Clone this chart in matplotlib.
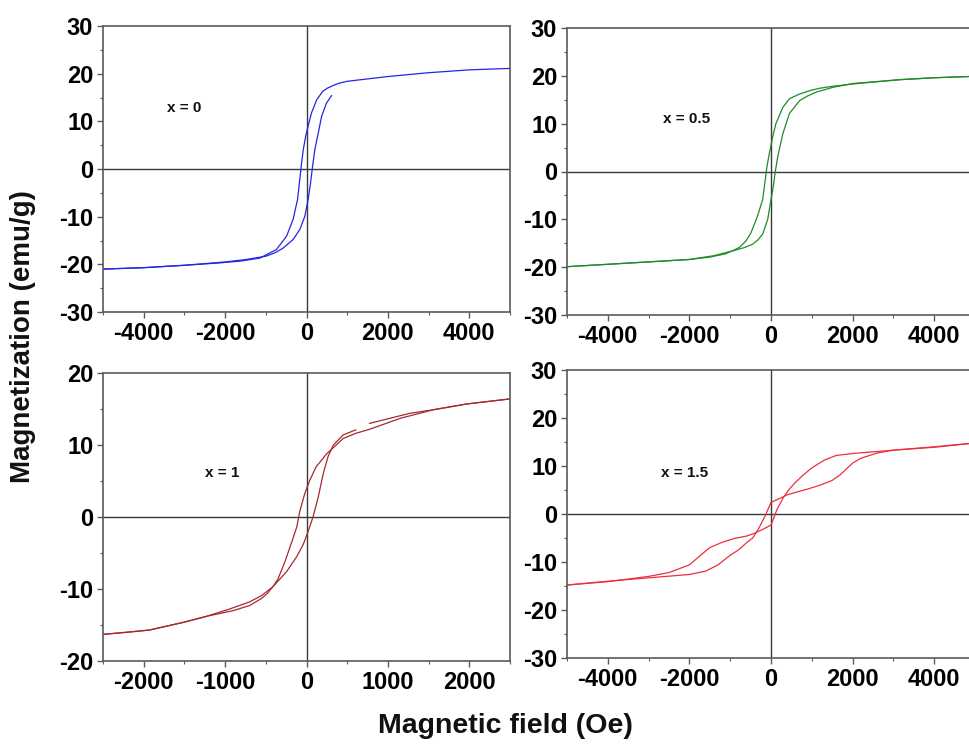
import numpy as np
import matplotlib
matplotlib.use("Agg")
import matplotlib.pyplot as plt
from matplotlib.ticker import MultipleLocator

plt.rcParams['font.family'] = ['Liberation Sans', 'DejaVu Sans']
plt.rcParams['axes.unicode_minus'] = False

# ---------------- data ----------------
# x = 0
p1_desc_H = [5000, 4000, 3000, 2000, 1500, 1000, 800, 650, 500, 400, 250, 120, 40, -20, -80, -120, -165, -220, -330, -490, -740, -1150, -1600, -2130, -3000, -4000, -5000]
p1_desc_M = [21.1, 20.8, 20.2, 19.4, 18.9, 18.4, 18.0, 17.5, 16.9, 16.3, 14.5, 11.7, 9.0, 6.9, 4.0, 1.3, -2.2, -6.4, -10.6, -14.1, -16.9, -18.7, -19.3, -19.7, -20.2, -20.7, -21.0]
p1_asc_H = [-5000, -4000, -3000, -2000, -1500, -1000, -780, -575, -330, -165, -40, 40, 100, 150, 205, 290, 370, 490, 615]
p1_asc_M = [-21.0, -20.7, -20.2, -19.5, -19.0, -18.3, -17.6, -16.6, -14.8, -12.7, -9.9, -6.4, -2.9, 0.6, 4.1, 7.6, 11.0, 13.8, 15.4]

# x = 0.5
p2_desc_H = [5000, 4000, 3160, 2010, 1500, 1190, 950, 700, 450, 290, 120, 40, -40, -100, -140, -205, -330, -490, -620, -780, -900, -1110, -1500, -2010, -3400, -5000]
p2_desc_M = [19.9, 19.6, 19.2, 18.3, 17.8, 17.4, 16.9, 16.2, 15.2, 13.4, 10.0, 7.2, 3.8, 1.0, -1.7, -5.9, -9.3, -12.8, -14.6, -15.9, -16.4, -17.2, -17.9, -18.4, -19.1, -19.9]
p2_asc_H = [-5000, -3400, -2010, -1400, -940, -650, -450, -320, -205, -80, 0, 57, 100, 165, 290, 450, 700, 900, 1110, 1520, 2010, 3160, 4000, 5000]
p2_asc_M = [-19.9, -19.1, -18.4, -17.6, -16.6, -15.9, -15.2, -14.3, -13.1, -10.0, -5.9, -3.1, -0.3, 3.1, 7.9, 12.1, 14.8, 15.8, 16.6, 17.6, 18.4, 19.2, 19.6, 19.9]

# x = 1
p3_desc_H = [2500, 1970, 1560, 1150, 780, 600, 450, 250, 120, 40, -20, -80, -120, -185, -265, -350, -414, -480, -550, -700, -900, -1230, -1500, -1930, -2200, -2500]
p3_desc_M = [16.4, 15.7, 14.9, 13.7, 12.2, 11.6, 10.9, 8.8, 7.0, 5.1, 3.3, 0.9, -1.4, -3.6, -6.2, -8.6, -9.7, -10.6, -11.3, -12.3, -13.0, -13.8, -14.6, -15.7, -16.0, -16.3]
p3_asc_H = [-2500, -2200, -1930, -1500, -1230, -950, -700, -550, -414, -245, -120, -40, 20, 80, 145, 205, 265, 330, 450, 605, np.nan, 775, 1020, 1270, 1560, 1970, 2500]
p3_asc_M = [-16.3, -16.0, -15.7, -14.6, -13.8, -12.8, -11.8, -10.9, -9.7, -7.6, -5.5, -3.8, -2.0, 0.0, 2.8, 6.0, 8.4, 10.0, 11.4, 12.1, np.nan, 13.0, 13.7, 14.4, 14.9, 15.7, 16.4]

# x = 1.5
p4_desc_H = [5000, 4000, 3000, 2600, 2200, 2000, 1700, 1500, 1200, 900, 600, 400, 200, 0, -150, -300, -450, -600, -800, -1000, -1300, -1600, -2000, -3000, -4000, -5000]
p4_desc_M = [14.8, 14.0, 13.3, 12.7, 11.6, 10.6, 8.2, 7.0, 6.0, 5.2, 4.5, 4.0, 3.2, 2.4, -0.5, -3.0, -5.0, -6.0, -7.5, -8.6, -10.6, -11.9, -12.6, -13.3, -14.0, -14.8]
p4_asc_H = [-5000, -4000, -3000, -2500, -2000, -1700, -1500, -1200, -900, -600, -400, -200, 0, 150, 300, 450, 600, 800, 1000, 1300, 1600, 2000, 3000, 4000, 5000]
p4_asc_M = [-14.8, -14.1, -13.0, -12.2, -10.6, -8.4, -7.0, -5.9, -5.1, -4.6, -4.0, -3.2, -2.3, 1.0, 3.4, 5.2, 6.6, 8.2, 9.6, 11.2, 12.2, 12.6, 13.3, 13.9, 14.8]

labels = ["x = 0", "x = 0.5", "x = 1", "x = 1.5"]
label_pos = [(-3000, 12.8), (-2060, 11.0), (-1040, 6.1), (-2130, 8.5)]
colors = ["#2424e6", "#1f8a2a", "#a32a30", "#ec2f3c"]
xlims = [(-5000, 5000), (-5000, 5000), (-2500, 2500), (-5000, 5000)]
ylims = [(-30, 30), (-30, 30), (-20, 20), (-30, 30)]
xmaj = [2000, 2000, 1000, 2000]

data = [
    (p1_desc_H, p1_desc_M, p1_asc_H, p1_asc_M),
    (p2_desc_H, p2_desc_M, p2_asc_H, p2_asc_M),
    (p3_desc_H, p3_desc_M, p3_asc_H, p3_asc_M),
    (p4_desc_H, p4_desc_M, p4_asc_H, p4_asc_M),
]

W, H = 969, 744
rects_px = [
    (103, 26, 510, 312),
    (567, 28, 975, 315),
    (103, 373, 510, 661),
    (567, 370, 975, 658),
]

fig = plt.figure(figsize=(W / 100, H / 100), dpi=100)
spine_col = "#5a5a5a"
for i, (l, t, r, b) in enumerate(rects_px):
    ax = fig.add_axes([l / W, 1 - b / H, (r - l) / W, (b - t) / H])
    dH, dM, aH, aM = data[i]
    ax.axhline(0, color="#3a3a3a", lw=1.0, zorder=1)
    ax.axvline(0, color="#3a3a3a", lw=1.0, zorder=1)
    ax.plot(dH, dM, color=colors[i], lw=0.9, zorder=2)
    ax.plot(aH, aM, color=colors[i], lw=0.9, zorder=2)
    ax.set_xlim(*xlims[i])
    ax.set_ylim(*ylims[i])
    ax.xaxis.set_major_locator(MultipleLocator(xmaj[i]))
    ax.xaxis.set_minor_locator(MultipleLocator(xmaj[i] / 2))
    ax.yaxis.set_major_locator(MultipleLocator(10))
    ax.yaxis.set_minor_locator(MultipleLocator(5))
    ax.tick_params(which="major", direction="out", length=4, width=1.0,
                   color=spine_col, labelsize=17, pad=3)
    ax.tick_params(which="minor", direction="out", length=2.5, width=0.8,
                   color=spine_col)
    for lab in ax.get_xticklabels() + ax.get_yticklabels():
        lab.set_fontweight("bold")
    for sp in ax.spines.values():
        sp.set_color(spine_col)
        sp.set_linewidth(1.2)
    ax.text(label_pos[i][0], label_pos[i][1], labels[i], ha="center", va="center",
            fontsize=11, fontweight="bold", color="#111111")

fig.text(0.024, 0.547, "Magnetization (emu/g)", rotation=90, ha="center", va="center",
         fontsize=20, fontweight="bold", color="#111111")
fig.text(0.522, 0.024, "Magnetic field (Oe)", ha="center", va="center",
         fontsize=20.5, fontweight="bold", color="#111111")

fig.savefig("out.png", dpi=100)
